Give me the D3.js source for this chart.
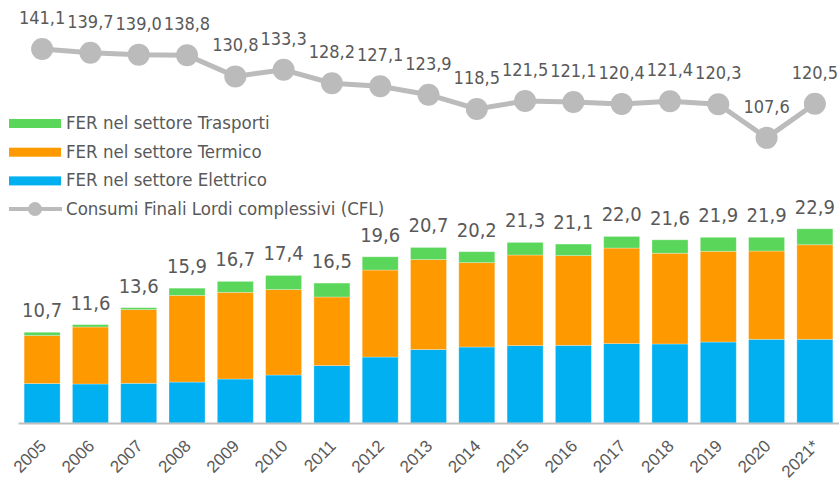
<!DOCTYPE html>
<html>
<head>
<meta charset="utf-8">
<script src="https://cdn.jsdelivr.net/npm/d3@7"></script>
<style>
  body { margin: 0; background: #fff; }
  svg { display: block; font-family: "DejaVu Sans Condensed", "DejaVu Sans", sans-serif; }
</style>
</head>
<body>
<svg id="svg" width="839" height="482"></svg>
<script>
var years = ["2005", "2006", "2007", "2008", "2009", "2010", "2011", "2012", "2013",
  "2014", "2015", "2016", "2017", "2018", "2019", "2020", "2021*"];
var elettrico = [4.65, 4.60, 4.68, 4.83, 5.19, 5.66, 6.77, 7.78, 8.66, 8.96, 9.13, 9.16, 9.36, 9.32, 9.55, 9.87, 9.87];
var termico = [5.66, 6.72, 8.69, 10.22, 10.22, 10.07, 8.09, 10.26, 10.61, 9.95, 10.68, 10.58, 11.27, 10.70, 10.70, 10.41, 11.15];
var trasporti = [0.39, 0.28, 0.23, 0.85, 1.29, 1.67, 1.64, 1.56, 1.43, 1.29, 1.49, 1.36, 1.37, 1.58, 1.65, 1.62, 1.88];
var totali = [10.7, 11.6, 13.6, 15.9, 16.7, 17.4, 16.5, 19.6, 20.7, 20.2, 21.3, 21.1, 22.0, 21.6, 21.9, 21.9, 22.9];
var cfl = [141.1, 139.7, 139.0, 138.8, 130.8, 133.3, 128.2, 127.1, 123.9, 118.5, 121.5, 121.1, 120.4, 121.4, 120.3, 107.6, 120.5];
var seriesNames = ["FER nel settore Elettrico", "FER nel settore Termico", "FER nel settore Trasporti"];
var cflName = "Consumi Finali Lordi complessivi (CFL)";

var svg = d3.select("#svg");
var colors = ["#00B0F0", "#FF9900", "#5AD75A"];
var grey = "#BBBBBB";
var textColor = "#595959";
var it = d3.formatLocale({ decimal: ",", thousands: ".", grouping: [3], currency: ["", "€"] });
var fmt = it.format(".1f");

var table = years.map(function (y, i) {
  return { year: y, e: elettrico[i], t: termico[i], tr: trasporti[i], tot: totali[i], cfl: cfl[i] };
});
var stack = d3.stack().keys(["e", "t", "tr"])(table);

var xScale = d3.scaleBand().domain(years).range([18, 839]).paddingInner(0.255).paddingOuter(0.127);
var yScale = d3.scaleLinear().domain([0, 50]).range([423, -1]);
var yLine = d3.scaleLinear().domain([0, 160]).range([423, -1]);
function cx(d) { return xScale(d) + xScale.bandwidth() / 2; }

// bars
var layers = svg.append("g").selectAll("g")
  .data(stack)
  .enter()
  .append("g")
  .attr("fill", function (d, i) { return colors[i]; });

layers.selectAll("rect")
  .data(function (d) { return d; })
  .enter()
  .append("rect")
  .attr("x", function (d) { return xScale(d.data.year); })
  .attr("width", xScale.bandwidth())
  .attr("y", function (d) { return yScale(d[1]); })
  .attr("height", function (d) { return yScale(d[0]) - yScale(d[1]); })
  .attr("stroke", "#ffffff")
  .attr("stroke-opacity", 0.35)
  .attr("stroke-width", 0.8);

// x axis
var xAxis = svg.append("g")
  .attr("transform", "translate(0,423)")
  .call(d3.axisBottom(xScale).tickSize(0).tickFormat(""));
xAxis.select(".domain").attr("stroke", "#BFBFBF").attr("stroke-width", 2);

xAxis.selectAll(".yr")
  .data(years)
  .enter()
  .append("text")
  .attr("class", "yr")
  .attr("transform", function (d) { return "translate(" + (cx(d) + 5) + ",24) rotate(-45)"; })
  .attr("text-anchor", "end")
  .attr("fill", textColor)
  .style("font-size", "17px")
  .text(function (d) { return d; });

// totals
svg.append("g").selectAll("text")
  .data(table)
  .enter()
  .append("text")
  .attr("x", function (d) { return cx(d.year); })
  .attr("y", function (d) { return yScale(d.tot) - 15; })
  .attr("text-anchor", "middle")
  .attr("fill", textColor)
  .style("font-size", "20px")
  .text(function (d) { return fmt(d.tot); });

// CFL line
var line = d3.line()
  .x(function (d) { return cx(d.year); })
  .y(function (d) { return yLine(d.cfl); });

svg.append("path")
  .datum(table)
  .attr("d", line)
  .attr("fill", "none")
  .attr("stroke", grey)
  .attr("stroke-width", 5);

svg.append("g").selectAll("circle")
  .data(table)
  .enter()
  .append("circle")
  .attr("cx", function (d) { return cx(d.year); })
  .attr("cy", function (d) { return yLine(d.cfl); })
  .attr("r", 11)
  .attr("fill", grey);

svg.append("g").selectAll("text")
  .data(table)
  .enter()
  .append("text")
  .attr("x", function (d) { return cx(d.year); })
  .attr("y", function (d) { return yLine(d.cfl) - 25; })
  .attr("text-anchor", "middle")
  .attr("fill", textColor)
  .style("font-size", "18px")
  .text(function (d) { return fmt(d.cfl); });

// legend
var legend = svg.append("g").attr("transform", "translate(9,129)");
var legendItems = [
  { name: seriesNames[2], color: colors[2] },
  { name: seriesNames[1], color: colors[1] },
  { name: seriesNames[0], color: colors[0] }
];
legendItems.forEach(function (item, i) {
  var g = legend.append("g").attr("transform", "translate(0," + (i * 28.7) + ")");
  g.append("rect").attr("x", 0).attr("y", -10).attr("width", 52).attr("height", 9).attr("fill", item.color);
  g.append("text").attr("x", 57).attr("y", 0).attr("fill", textColor).style("font-size", "18.5px").text(item.name);
});
var lg = legend.append("g").attr("transform", "translate(0," + (3 * 28.7) + ")");
lg.append("line").attr("x1", 0).attr("x2", 53).attr("y1", -6).attr("y2", -6).attr("stroke", grey).attr("stroke-width", 4);
lg.append("circle").attr("cx", 26).attr("cy", -6).attr("r", 7).attr("fill", grey);
lg.append("text").attr("x", 57).attr("y", 0).attr("fill", textColor).style("font-size", "18.5px").text(cflName);
</script>
</body>
</html>
